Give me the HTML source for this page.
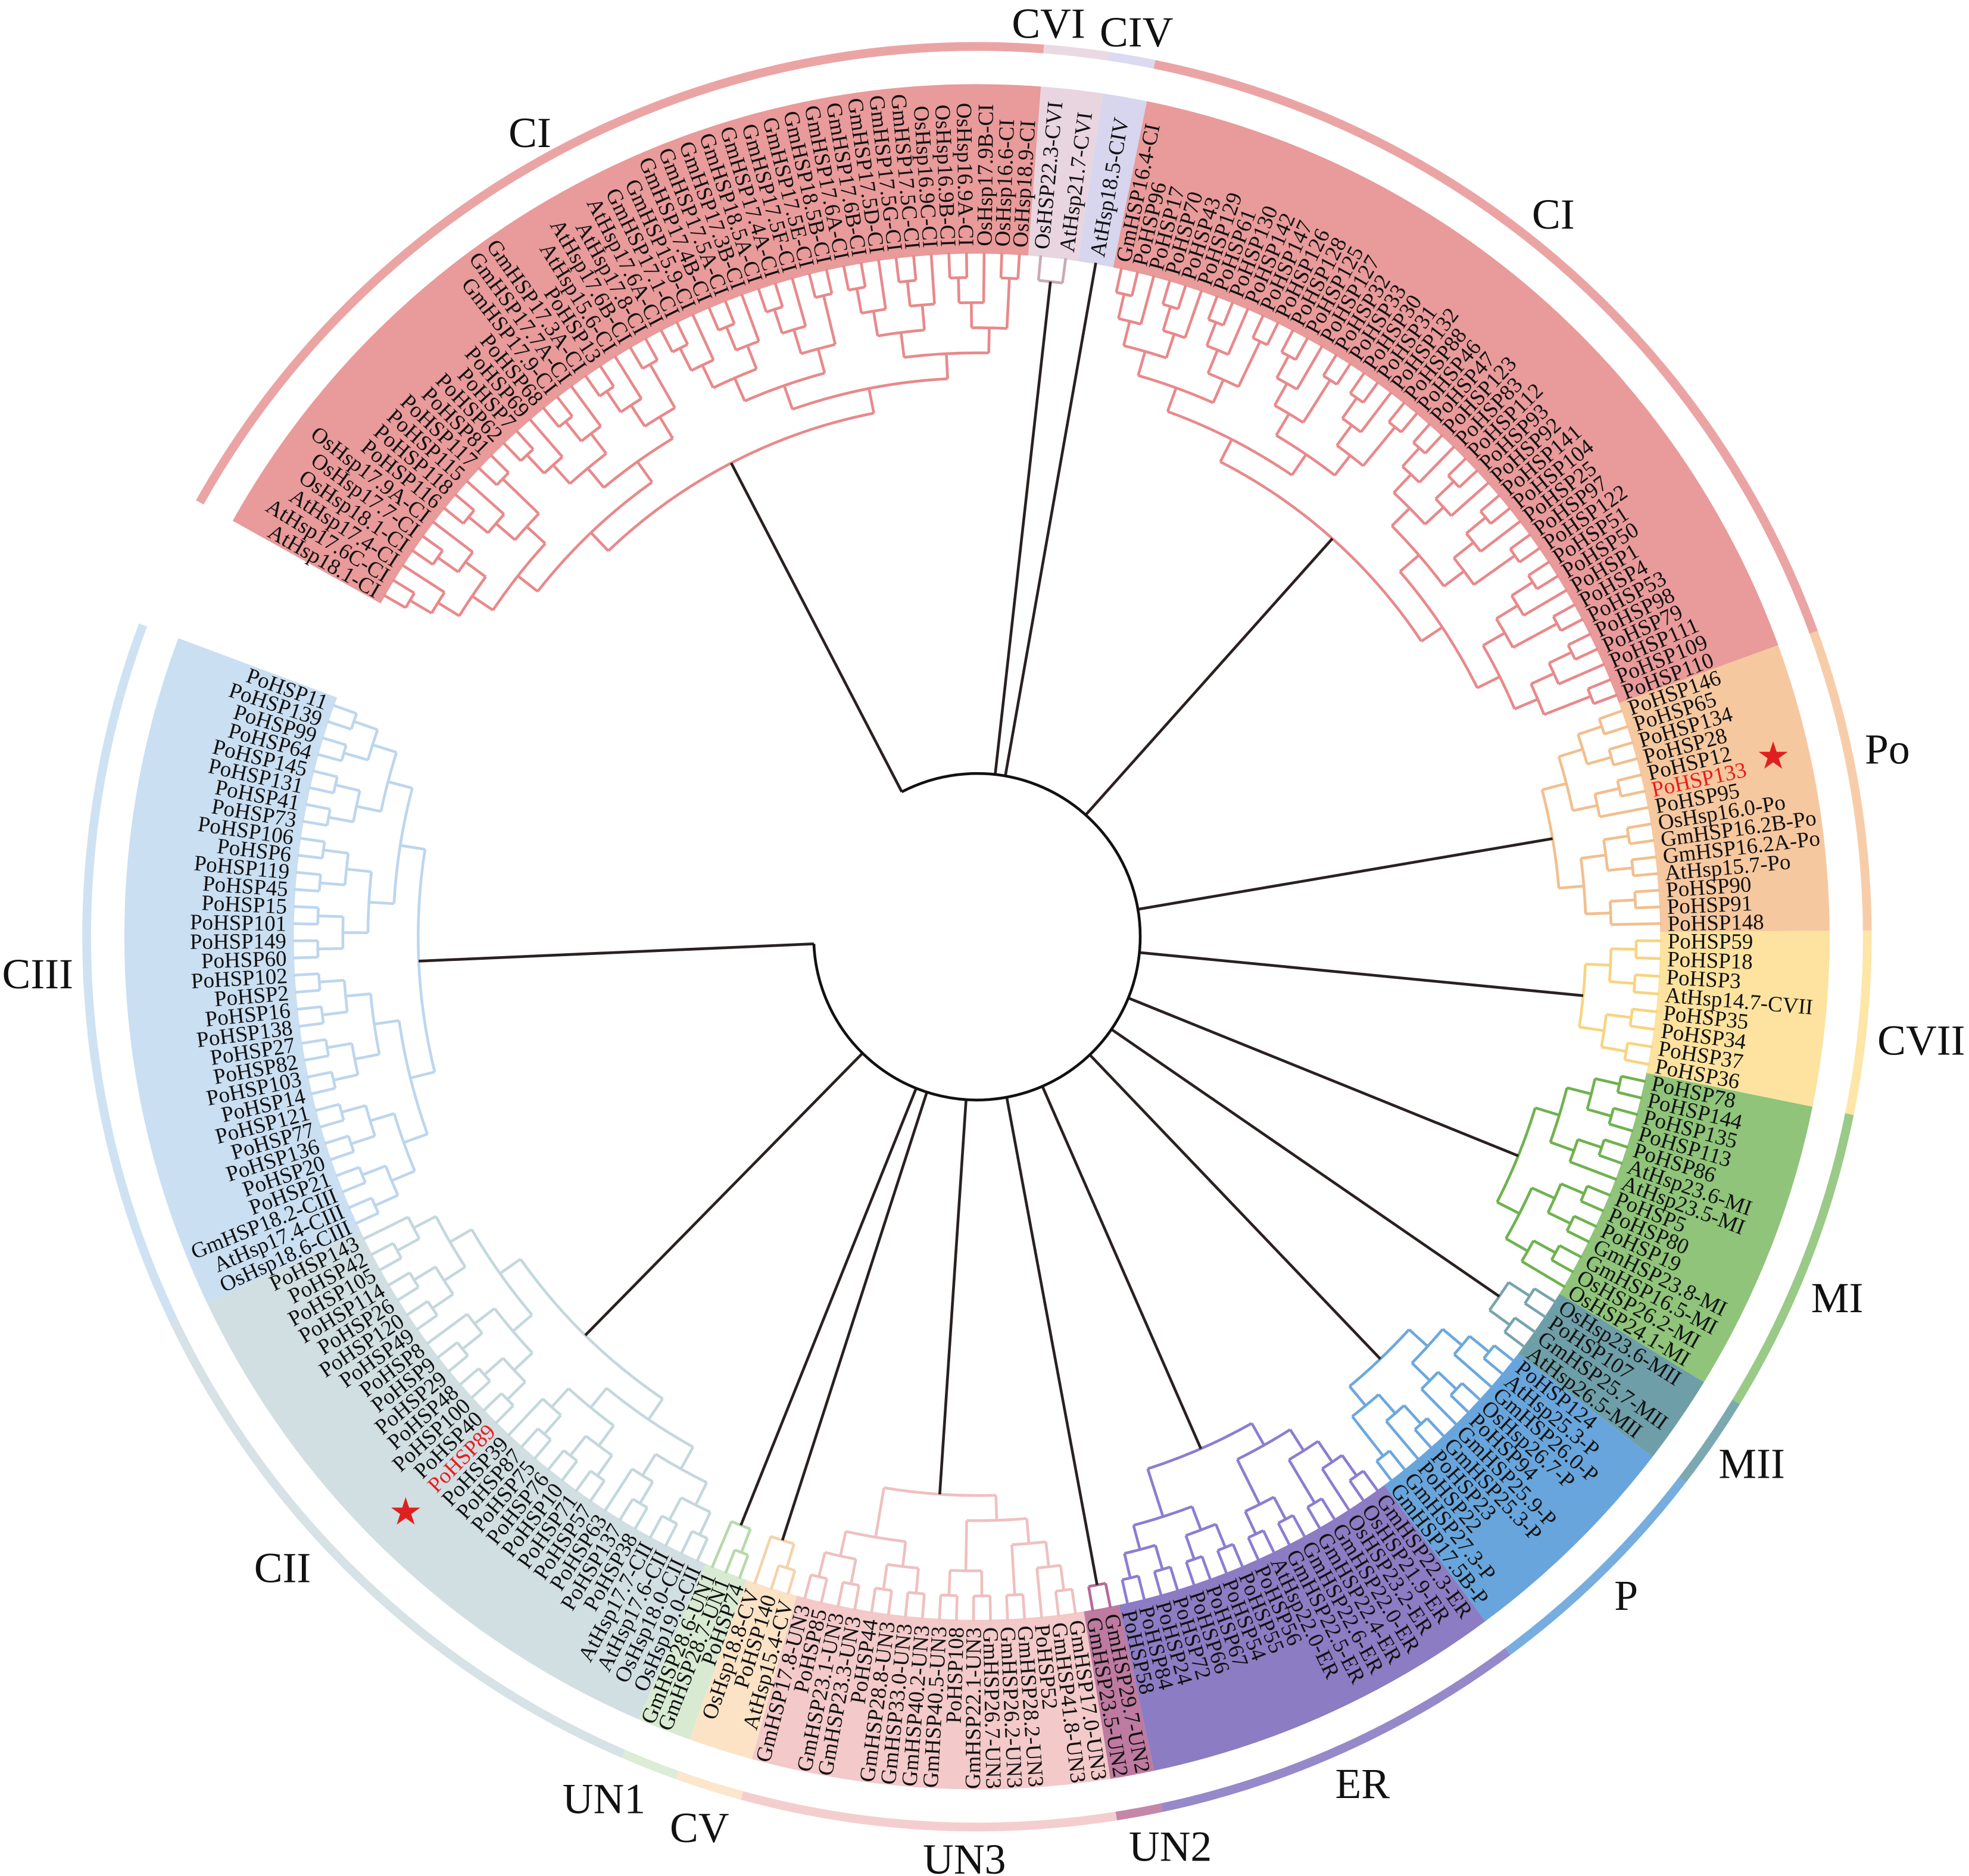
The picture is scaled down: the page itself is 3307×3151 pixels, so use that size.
<!DOCTYPE html>
<html><head><meta charset="utf-8"><title>HSP phylogenetic tree</title>
<style>html,body{margin:0;padding:0;background:#fff;}svg{display:block;}</style></head>
<body>
<svg id="tree" width="3307" height="3151" viewBox="0 0 1568 1494" preserveAspectRatio="none" xmlns="http://www.w3.org/2000/svg" font-family="'Liberation Serif', serif">
<g id="wedges"></g>
<g id="rings"></g>
<g id="branches" fill="none" stroke-width="2.2"></g>
<g id="leaves" font-size="17.5"></g>
<g id="cladeLabels" font-size="34" text-anchor="middle"></g>
<text x="1412" y="612" font-size="30" fill="#e02020" text-anchor="middle">★</text>
<text x="323" y="1214" font-size="30" fill="#e02020" text-anchor="middle">★</text>
</svg>
<script>
const cladeNames = ["CI","CVI","CIV","CI","Po","CVII","MI","MII","P","ER","UN2","UN3","CV","UN1","CII","CIII"];
const cladeStart = [209.2,274.3,278.5,281.5,340,359.6,371.5,391.5,397.6,413.4,438,441,465.3,469.7,473.4,514.5];
const cladeEnd   = [274.3,278.5,281.5,340,359.6,371.5,391.5,397.6,413.4,438,441,465.3,469.7,473.4,514.5,560.5];
const wedgeColors = ["#e99a9a","#e8d5df","#d7d6ee","#e99a9a","#f6c8a0","#fde39f","#8fc47a","#6e9fa8","#68a5dc","#8b7cc3","#be7aa0","#f3c9c9","#fce3c6","#d8ead2","#d1dfe3","#cadff2"];
const branchColors = ["#e8898b","#c9a9b8","#a9a6cf","#e8898b","#f2bf8e","#f8d47f","#6fb24f","#78a4ad","#6ca8dc","#8d7dd0","#b6699a","#efc0c0","#f4d2ac","#b6d9a9","#c3d8dc","#bdd6ee"];
const cladeLeaves = [
["AtHsp18.1-CI","AtHsp17.6C-CI","AtHsp17.4-CI","OsHsp18.1-CI","OsHsp17.7-CI","OsHsp17.9A-CI","PoHSP116","PoHSP118","PoHSP115","PoHSP117","PoHSP81","PoHSP62","PoHSP7","PoHSP69","PoHSP68","GmHSP17.9-CI","GmHSP17.7A-CI","GmHSP17.3A-CI","PoHSP13","AtHsp15.6-CI","AtHsp17.6B-CI","AtHsp17.8-CI","AtHsp17.6A-CI","GmHSP17.1-CI","GmHSP15.9-CI","GmHSP17.4B-CI","GmHSP17.5A-CI","GmHSP17.3B-CI","GmHSP18.5A-CI","GmHSP17.4A-CI","GmHSP17.5F-CI","GmHSP17.5E-CI","GmHSP18.5B-CI","GmHSP17.6A-CI","GmHSP17.6B-CI","GmHSP17.5D-CI","GmHSP17.5G-CI","GmHSP17.5C-CI","OsHsp16.9C-CI","OsHsp16.9B-CI","OsHsp16.9A-CI","OsHsp17.9B-CI","OsHsp16.6-CI","OsHsp18.9-CI"],
["OsHSP22.3-CVI","AtHsp21.7-CVI"],
["AtHsp18.5-CIV"],
["GmHSP16.4-CI","PoHSP96","PoHSP17","PoHSP70","PoHSP43","PoHSP129","PoHSP61","PoHSP130","PoHSP142","PoHSP147","PoHSP126","PoHSP128","PoHSP125","PoHSP127","PoHSP32","PoHSP33","PoHSP30","PoHSP31","PoHSP132","PoHSP88","PoHSP46","PoHSP47","PoHSP123","PoHSP83","PoHSP112","PoHSP93","PoHSP92","PoHSP141","PoHSP104","PoHSP25","PoHSP97","PoHSP122","PoHSP51","PoHSP50","PoHSP1","PoHSP4","PoHSP53","PoHSP98","PoHSP79","PoHSP111","PoHSP109","PoHSP110"],
["PoHSP146","PoHSP65","PoHSP134","PoHSP28","PoHSP12","PoHSP133","PoHSP95","OsHsp16.0-Po","GmHSP16.2B-Po","GmHSP16.2A-Po","AtHsp15.7-Po","PoHSP90","PoHSP91","PoHSP148"],
["PoHSP59","PoHSP18","PoHSP3","AtHsp14.7-CVII","PoHSP35","PoHSP34","PoHSP37","PoHSP36"],
["PoHSP78","PoHSP144","PoHSP135","PoHSP113","PoHSP86","AtHsp23.6-MI","AtHsp23.5-MI","PoHSP5","PoHSP80","PoHSP19","GmHSP23.8-MI","GmHSP16.5-MI","OsHSP26.2-MI","OsHSP24.1-MI"],
["OsHsp23.6-MII","PoHSP107","GmHSP25.7-MII","AtHsp26.5-MII"],
["PoHSP124","AtHsp25.3-P","GmHSP26.0-P","OsHsp26.7-P","PoHSP94","GmHSP25.9-P","GmHSP25.3-P","PoHSP23","PoHSP22","GmHSP27.3-P","GmHSP17.5B-P"],
["GmHSP22.3-ER","OsHSP21.9-ER","OsHSP23.2-ER","GmHSP22.0-ER","GmHSP22.4-ER","GmHSP22.6-ER","GmHSP22.5-ER","AtHsp22.0-ER","PoHSP56","PoHSP55","PoHSP54","PoHSP67","PoHSP66","PoHSP72","PoHSP24","PoHSP84","PoHSP58"],
["GmHSP29.7-UN2","GmHSP23.5-UN2"],
["GmHSP17.0-UN3","GmHSP41.8-UN3","PoHSP52","GmHSP28.2-UN3","GmHSP26.2-UN3","GmHSP26.7-UN3","GmHSP22.1-UN3","PoHSP108","GmHSP40.5-UN3","GmHSP40.2-UN3","GmHSP33.0-UN3","GmHSP28.8-UN3","PoHSP44","GmHSP23.3-UN3","GmHSP23.1-UN3","PoHSP85","GmHSP17.8-UN3"],
["AtHsp15.4-CV","PoHSP140","OsHsp18.8-CV"],
["PoHSP74","GmHSP28.7-UN1","GmHSP28.6-UN1"],
["OsHsp19.0-CII","OsHsp18.0-CII","AtHsp17.6-CII","AtHsp17.7-CII","PoHSP38","PoHSP137","PoHSP63","PoHSP57","PoHSP71","PoHSP10","PoHSP76","PoHSP75","PoHSP87","PoHSP39","PoHSP89","PoHSP40","PoHSP100","PoHSP48","PoHSP29","PoHSP9","PoHSP8","PoHSP49","PoHSP120","PoHSP26","PoHSP114","PoHSP105","PoHSP42","PoHSP143"],
["OsHsp18.6-CIII","AtHsp17.4-CIII","GmHSP18.2-CIII","PoHSP21","PoHSP20","PoHSP136","PoHSP77","PoHSP121","PoHSP14","PoHSP103","PoHSP82","PoHSP27","PoHSP138","PoHSP16","PoHSP2","PoHSP102","PoHSP60","PoHSP149","PoHSP101","PoHSP15","PoHSP45","PoHSP119","PoHSP6","PoHSP106","PoHSP73","PoHSP41","PoHSP131","PoHSP145","PoHSP64","PoHSP99","PoHSP139","PoHSP11"]
];
const highlighted = ["PoHSP133","PoHSP89"];
const labelText = ["CI","CI","CVI","CIV","Po","CVII","MI","MII","P","ER","UN2","UN3","CV","UN1","CII","CIII"];
const labelX = [422,1237,835,905,1503,1530,1463,1395,1295,1085,932,768,557,481,225,30];
const labelY = [117,182,30,37,608,840,1045,1177,1282,1432,1482,1492,1467,1444,1260,787];

const NS="http://www.w3.org/2000/svg";
const CX=778, CY=746, R_TIP=545, R_LAB=550, R_WIN=544, R_WOUT=679, R_RING=709, R_BACK=130, STEP=20;
function pol(r,a){const t=a*Math.PI/180;return [CX+r*Math.cos(t),CY+r*Math.sin(t)];}
function arcD(r,a0,a1){const p=pol(r,a0),q=pol(r,a1);const lg=(a1-a0)>180?1:0;return `M${p[0]},${p[1]}A${r},${r} 0 ${lg} 1 ${q[0]},${q[1]}`;}
function mk(tag,attrs,parent){const e=document.createElementNS(NS,tag);for(const k in attrs)e.setAttribute(k,attrs[k]);parent.appendChild(e);return e;}
const gW=document.getElementById('wedges'),gR=document.getElementById('rings'),gB=document.getElementById('branches'),gL=document.getElementById('leaves'),gC=document.getElementById('cladeLabels');

const cladeRoots=[];
cladeNames.forEach((name,ci)=>{
  const a0=cladeStart[ci],a1=cladeEnd[ci],lv=cladeLeaves[ci];
  const po0=pol(R_WOUT,a0),po1=pol(R_WOUT,a1),pi1=pol(R_WIN,a1),pi0=pol(R_WIN,a0);
  const lg=(a1-a0)>180?1:0;
  const w=mk('path',{d:`M${po0}A${R_WOUT},${R_WOUT} 0 ${lg} 1 ${po1}L${pi1}A${R_WIN},${R_WIN} 0 ${lg} 0 ${pi0}Z`,fill:wedgeColors[ci]},gW);
  
  
  const rg=mk('path',{d:arcD(R_RING,a0,a1),fill:'none',stroke:wedgeColors[ci],'stroke-width':7,opacity:0.9},gR);
  
  
  const step=(a1-a0)/lv.length;
  const nodes=lv.map((lab,i)=>{
    const a=a0+step*(i+0.5);
    let an=((a%360)+360)%360; if(an>180)an-=360;
    const p=pol(R_LAB,a);
    const right=Math.abs(an)<=90;
    const t=mk('text',{x:p[0],y:p[1],transform:`rotate(${right?an:an+180} ${p[0]} ${p[1]})`,'text-anchor':right?'start':'end','dominant-baseline':'central',fill:highlighted.includes(lab)?'#e81c1c':'#111'},gL);
    t.textContent=lab;
    
    
    return {a:a,r:R_TIP};
  });
  function build(arr){
    if(arr.length===1)return arr[0];
    const m=Math.ceil(arr.length/2);
    const L=build(arr.slice(0,m)),Rn=build(arr.slice(m));
    const r=Math.min(L.r,Rn.r)-STEP;
    const col=branchColors[ci];
    mk('path',{d:arcD(r,L.a,Rn.a),stroke:col},gB);
    mk('path',{d:`M${pol(r,L.a)}L${pol(L.r,L.a)}`,stroke:col},gB);
    mk('path',{d:`M${pol(r,Rn.a)}L${pol(Rn.r,Rn.a)}`,stroke:col},gB);
    return {a:(L.a+Rn.a)/2,r:r};
  }
  const root=build(nodes);
  cladeRoots.push(root);
  const conn=mk('path',{d:`M${pol(R_BACK,root.a)}L${pol(root.r,root.a)}`,stroke:'#2a2020'},gB);
  
  
});
const bb=mk('path',{d:arcD(R_BACK,cladeRoots[0].a,cladeRoots[cladeRoots.length-1].a),stroke:'#111'},gB);



labelText.forEach((t,i)=>{
  const e=mk('text',{x:labelX[i],y:labelY[i],fill:'#111'},gC);
  e.textContent=t;
  
  
});
</script>
</body></html>
